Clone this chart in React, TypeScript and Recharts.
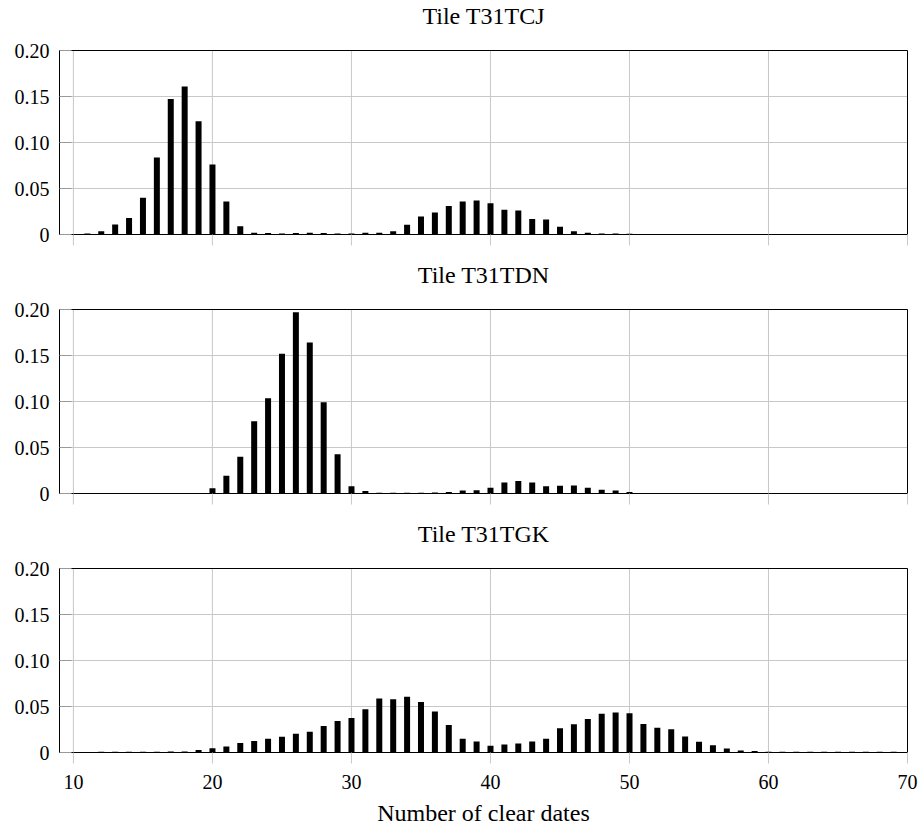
import React from 'react'
import { BarChart, Bar, XAxis, YAxis, CartesianGrid, ReferenceArea } from 'recharts'

const FONT = '"Liberation Serif", "Times New Roman", serif'
const GRID = '#c8c8c8'
const TICK_MARK = '#999999'

// number of clear dates (x), 10..70
const dates = [
  10, 11, 12, 13, 14, 15, 16, 17, 18, 19, 20, 21, 22, 23, 24, 25, 26, 27, 28, 29,
  30, 31, 32, 33, 34, 35, 36, 37, 38, 39, 40, 41, 42, 43, 44, 45, 46, 47, 48, 49,
  50, 51, 52, 53, 54, 55, 56, 57, 58, 59, 60, 61, 62, 63, 64, 65, 66, 67, 68, 69, 70,
]

const tcj = [
  0.0005, 0.001, 0.0036, 0.011, 0.018, 0.04, 0.0836, 0.1474, 0.161, 0.123,
  0.076, 0.036, 0.009, 0.002, 0.0015, 0.001, 0.0015, 0.002, 0.0015, 0.001,
  0.001, 0.002, 0.002, 0.0036, 0.0106, 0.0197, 0.024, 0.031, 0.036, 0.037,
  0.034, 0.027, 0.026, 0.0168, 0.0164, 0.0084, 0.0034, 0.002, 0.001, 0.001,
  0.0007, 0, 0, 0, 0, 0, 0, 0, 0, 0,
  0, 0, 0, 0, 0, 0, 0, 0, 0, 0, 0,
]

const tdn = [
  0, 0, 0.0003, 0.0005, 0.0005, 0.0005, 0.0005, 0.0005, 0.0005, 0.0005,
  0.0058, 0.0193, 0.04, 0.0785, 0.1036, 0.1518, 0.197, 0.164, 0.0993, 0.0427,
  0.008, 0.0026, 0.0008, 0.0008, 0.0008, 0.0008, 0.001, 0.0015, 0.0033, 0.0036,
  0.0062, 0.012, 0.0135, 0.012, 0.008, 0.0084, 0.0088, 0.0062, 0.004, 0.0033,
  0.0015, 0.0005, 0.0003, 0.0003, 0, 0, 0, 0, 0, 0,
  0, 0, 0, 0, 0, 0, 0, 0, 0, 0, 0,
]

const tgk = [
  0, 0.0003, 0.0007, 0.0007, 0.0007, 0.0007, 0.0007, 0.001, 0.001, 0.0026,
  0.0047, 0.0066, 0.0102, 0.0124, 0.015, 0.0172, 0.0204, 0.0226, 0.0288, 0.0343,
  0.0376, 0.047, 0.0588, 0.058, 0.0606, 0.055, 0.0445, 0.03, 0.015, 0.012,
  0.0073, 0.0088, 0.0099, 0.012, 0.015, 0.0263, 0.0307, 0.0365, 0.042, 0.0434,
  0.0427, 0.031, 0.027, 0.0252, 0.0175, 0.0117, 0.008, 0.0044, 0.0022, 0.0015,
  0.0008, 0.0008, 0.0008, 0.0008, 0.0008, 0.0008, 0.0008, 0.0008, 0.0008, 0.0008, 0,
]

const xTicks = [10, 20, 30, 40, 50, 60, 70]
const yTicks = [0, 0.05, 0.1, 0.15, 0.2]

const panels = [
  { title: 'Tile T31TCJ', values: tcj },
  { title: 'Tile T31TDN', values: tdn },
  { title: 'Tile T31TGK', values: tgk },
]

// half-pixel offsets keep the horizontal rules crisp
const PLOT_TOP = 50.5
const PLOT_H = 184
const PANEL_STEP = 259
const LEFT_W = 59.5
const RIGHT_M = 12.5

const fmtY = (v: number) => (v === 0 ? '0' : v.toFixed(2))

// left y tick: label outside, short mark inside the frame
function LeftTick({ x, y, payload }: any) {
  const ax = x + 10
  return (
    <g>
      <line x1={ax} x2={ax + 12} y1={y} y2={y} stroke={TICK_MARK} strokeWidth={1} />
      <text x={x} y={y} dy="0.355em" textAnchor="end" fontFamily={FONT} fontSize={20} fill="#000">
        {fmtY(payload.value)}
      </text>
    </g>
  )
}

function RightTick({ x, y }: any) {
  const ax = x - 10
  return <line x1={ax} x2={ax - 12} y1={y} y2={y} stroke={TICK_MARK} strokeWidth={1} />
}

function Panel({ title, values, last, top }: { title: string; values: number[]; last: boolean; top: number }) {
  const data = dates.map((d, i) => ({ d, v: values[i] }))
  const height = last ? 300 : 260
  return (
    <div style={{ position: 'absolute', left: 0, top }}>
      <div
        style={{
          position: 'absolute', left: LEFT_W, width: 920 - LEFT_W - RIGHT_M, top: 4,
          textAlign: 'center', fontFamily: FONT, fontSize: 24, lineHeight: '24px', color: '#000',
        }}
      >
        {title}
      </div>
      <BarChart width={920} height={height} data={data} margin={{ top: PLOT_TOP, right: RIGHT_M, bottom: 0, left: 0 }}>
        <CartesianGrid stroke={GRID} strokeWidth={1} />
        <XAxis
          dataKey="d" type="number" domain={[9, 70]} allowDataOverflow ticks={xTicks}
          height={height - PLOT_TOP - PLOT_H}
          axisLine={{ stroke: '#000' }} tickLine={{ stroke: GRID }} tickSize={11} tickMargin={11}
          tick={{ fontFamily: FONT, fontSize: 20, fill: '#000' }}
          tickFormatter={(v: number) => (last ? String(v) : '')}
        />
        <XAxis
          xAxisId="top" orientation="top" dataKey="d" type="number" domain={[9, 70]} allowDataOverflow ticks={xTicks}
          height={0} axisLine={{ stroke: '#000' }} tickLine={{ stroke: GRID }} tickSize={11}
          tickFormatter={() => ''}
        />
        <YAxis
          domain={[0, 0.2]} allowDataOverflow ticks={yTicks} width={LEFT_W}
          axisLine={{ stroke: '#000' }} tickLine={false} tickSize={6} tickMargin={4} tick={<LeftTick />}
        />
        <YAxis
          yAxisId="right" orientation="right" domain={[0, 0.2]} allowDataOverflow ticks={yTicks} width={0}
          axisLine={{ stroke: '#000' }} tickLine={false} tickSize={6} tickMargin={4} tick={<RightTick />}
        />
        <Bar dataKey="v" fill="#000" barSize={6} isAnimationActive={false} />
        <ReferenceArea x1={9} x2={70} y1={0} y2={0.2} fill="none" stroke="#000" strokeWidth={1} ifOverflow="visible" />
      </BarChart>
    </div>
  )
}

export default function App() {
  return (
    <div style={{ position: 'absolute', left: 0, top: 0, width: 920, height: 827, background: '#fff' }}>
      {panels.map((p, i) => (
        <Panel key={p.title} title={p.title} values={p.values} last={i === panels.length - 1} top={i * PANEL_STEP} />
      ))}
      <div
        style={{
          position: 'absolute', left: LEFT_W, width: 920 - LEFT_W - RIGHT_M, top: 801,
          textAlign: 'center', fontFamily: FONT, fontSize: 24, lineHeight: '24px', color: '#000',
        }}
      >
        Number of clear dates
      </div>
    </div>
  )
}
